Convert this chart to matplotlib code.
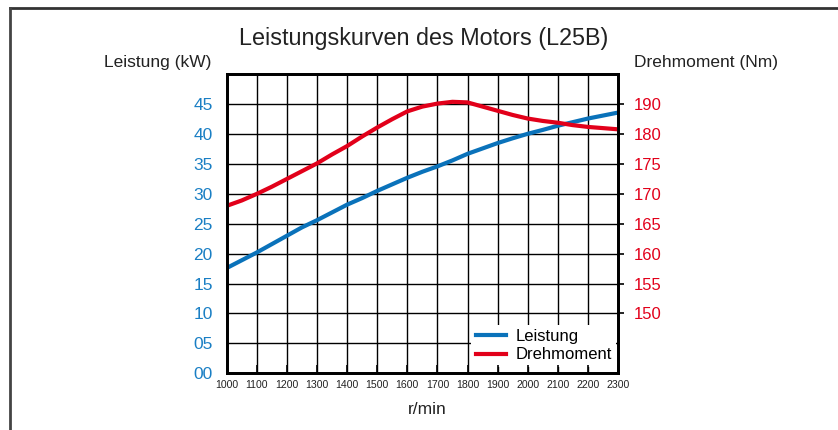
import matplotlib
matplotlib.use("Agg")
import matplotlib.pyplot as plt
from matplotlib.lines import Line2D

plt.rcParams['font.family'] = ['Liberation Sans', 'DejaVu Sans']

rpm = [1000, 1050, 1100, 1150, 1200, 1250, 1300, 1350, 1400, 1450, 1500, 1550, 1600, 1650,
       1700, 1750, 1800, 1850, 1900, 1950, 2000, 2050, 2100, 2150, 2200, 2250, 2300]
leistung_kw = [17.6, 18.9, 20.2, 21.6, 23.0, 24.4, 25.6, 26.9, 28.2, 29.3, 30.5, 31.6, 32.7, 33.7,
               34.6, 35.6, 36.7, 37.6, 38.5, 39.3, 40.05, 40.7, 41.4, 42.0, 42.6, 43.1, 43.6]
# torque read on the right axis scale as drawn (its top label reads 190 at the 185 position)
drehmoment = [168.0, 168.9, 170.0, 171.2, 172.5, 173.8, 175.1, 176.6, 178.0, 179.6, 181.1, 182.5,
              183.8, 184.6, 185.1, 185.4, 185.3, 184.6, 183.9, 183.2, 182.6, 182.2, 181.9, 181.5,
              181.2, 181.0, 180.8]

x_ticks = list(range(1000, 2301, 100))
left_ticks = [0, 5, 10, 15, 20, 25, 30, 35, 40, 45, 50]
left_labels = ['00', '05', '10', '15', '20', '25', '30', '35', '40', '45', '']
right_ticks = [150, 155, 160, 165, 170, 175, 180, 185]
right_labels = ['150', '155', '160', '165', '170', '175', '180', '190']

BLUE = '#0a72ba'
RED = '#e2001a'
BLUE_TXT = '#1a7fc4'
RED_TXT = '#e2001a'

fig = plt.figure(figsize=(8.38, 4.30), dpi=100)
ax = fig.add_axes([0.2705, 0.1319, 0.4670, 0.6953])
ax2 = ax.twinx()

ax.set_xlim(1000, 2300)
ax.set_ylim(0, 50)
ax2.set_ylim(140, 190)

ax.set_xticks(x_ticks)
ax.set_xticklabels([str(v) for v in x_ticks], fontsize=7.6, color='#222222')
ax.set_yticks(left_ticks)
ax.set_yticklabels(left_labels, fontsize=12.5, color=BLUE_TXT)
ax.tick_params(axis='x', length=0, pad=5)
ax.tick_params(axis='y', length=0, pad=10)
ax.grid(True, which='major', color='black', linewidth=1.0)

ax2.set_yticks(right_ticks)
ax2.set_yticklabels(right_labels, fontsize=12, color=RED_TXT)
ax2.tick_params(axis='y', direction='out', length=4, width=1.2, pad=7.5)
ax2.xaxis.set_visible(True)
ax2.tick_params(axis='x', direction='in', length=6, width=1.2, labelbottom=False, labeltop=False)

for a in (ax, ax2):
    for s in a.spines.values():
        s.set_linewidth(2.0)
        s.set_color('black')

ax.plot(rpm, leistung_kw, color=BLUE, linewidth=3.0, solid_capstyle='butt')
ax2.plot(rpm, drehmoment, color=RED, linewidth=3.0, solid_capstyle='butt')

leg = ax.legend([Line2D([], [], color=BLUE, lw=3.0), Line2D([], [], color=RED, lw=3.0)],
                ['Leistung', 'Drehmoment'], loc='lower right', bbox_to_anchor=(1.012, 0.0),
                borderaxespad=0.4, fontsize=12, frameon=True, fancybox=False,
                facecolor='white', edgecolor='none', framealpha=1.0,
                handlelength=1.8, handletextpad=0.6, labelspacing=0.2, borderpad=0.25)
leg.set_zorder(5)

fig.text(424 / 838, 1 - 38 / 430, 'Leistungskurven des Motors (L25B)', ha='center', va='center',
         fontsize=16.8, color='#222222')
fig.text(158 / 838, 1 - 62 / 430, 'Leistung (kW)', ha='center', va='center', fontsize=12.5, color='#222222')
fig.text(706 / 838, 1 - 62 / 430, 'Drehmoment (Nm)', ha='center', va='center', fontsize=12.5, color='#222222')
fig.text(427 / 838, 1 - 410 / 430, 'r/min', ha='center', va='center', fontsize=12.5, color='#222222')

# outer frame (cut at right and bottom)
fig.add_artist(Line2D([9.5 / 838, 1.0], [1 - 7.5 / 430, 1 - 7.5 / 430], color='#333333', lw=2.0,
                      transform=fig.transFigure))
fig.add_artist(Line2D([9.5 / 838, 9.5 / 838], [0.0, 1 - 7.5 / 430], color='#444444', lw=2.0,
                      transform=fig.transFigure))

fig.savefig('out.png', dpi=100)
